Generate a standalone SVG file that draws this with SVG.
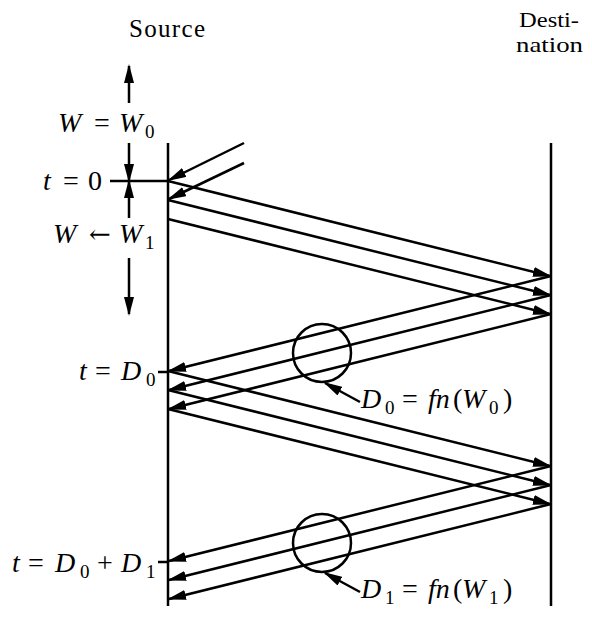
<svg xmlns="http://www.w3.org/2000/svg" width="592" height="619" viewBox="0 0 592 619">
<style>
.ln{stroke:#000;stroke-width:2.5;fill:none}
.ar{stroke:#000;stroke-width:2.5;fill:none;marker-end:url(#ah)}
.t{font-family:'Liberation Serif','Times New Roman',serif;font-size:28px;fill:#000}
.h{font-size:25px}
.d{font-size:22px}
.i{font-style:italic}
.s{font-size:19px}
.a{font-family:'DejaVu Serif',serif;font-size:26px}
</style>
<defs>
<marker id="ah" viewBox="0 0 19 10" refX="17" refY="5" markerWidth="19" markerHeight="10" markerUnits="userSpaceOnUse" orient="auto">
<path d="M0,0 L19,5 L0,10 z" fill="#000"/>
</marker>
</defs>
<rect width="592" height="619" fill="#fff"/>
<g id="source">
<line class="ln" x1="168" y1="143" x2="168" y2="606"/>
<text class="t h" x="129" y="37" textLength="76" lengthAdjust="spacing">Source</text>
</g>
<g id="destination">
<line class="ln" x1="551" y1="143" x2="551" y2="606"/>
<text class="t d" x="519" y="27" textLength="60" lengthAdjust="spacingAndGlyphs">Desti-</text>
<text class="t d" x="516" y="52" textLength="67" lengthAdjust="spacingAndGlyphs">nation</text>
</g>
<g id="window-labels">
<text class="t"><tspan class="i" x="58" y="132">W</tspan><tspan x="94" y="132">=</tspan><tspan class="i" x="119" y="132">W</tspan><tspan class="s" x="145" y="138">0</tspan></text>
<text class="t"><tspan class="i" x="43" y="190">t</tspan><tspan x="63" y="190">=</tspan><tspan x="88" y="190">0</tspan></text>
<text class="t"><tspan class="i" x="53" y="243">W</tspan><tspan class="a" x="89" y="243">←</tspan><tspan class="i" x="119" y="243">W</tspan><tspan class="s" x="145" y="249">1</tspan></text>
<line class="ln" x1="110" y1="181" x2="168" y2="181"/>
</g>
<g id="time-labels">
<text class="t"><tspan class="i" x="79" y="380">t</tspan><tspan x="95" y="380">=</tspan><tspan class="i" x="121" y="380">D</tspan><tspan class="s" x="146" y="386">0</tspan></text>
<line class="ln" x1="158" y1="372" x2="168" y2="372"/>
<text class="t"><tspan class="i" x="12" y="572">t</tspan><tspan x="28" y="572">=</tspan><tspan class="i" x="55" y="572">D</tspan><tspan class="s" x="80" y="578">0</tspan><tspan x="97" y="572">+</tspan><tspan class="i" x="121" y="572">D</tspan><tspan class="s" x="146" y="578">1</tspan></text>
<line class="ln" x1="158" y1="562" x2="168" y2="562"/>
</g>
<g id="delay0">
<circle class="ln" cx="322" cy="353" r="29"/>
<text class="t"><tspan class="i" x="361" y="408">D</tspan><tspan class="s" x="385" y="414">0</tspan><tspan x="402" y="408">=</tspan><tspan class="i" x="428" y="408">fn</tspan><tspan x="453" y="408">(</tspan><tspan class="i" x="462" y="408">W</tspan><tspan class="s" x="489" y="414">0</tspan><tspan x="503" y="408">)</tspan></text>
</g>
<g id="delay1">
<circle class="ln" cx="322" cy="543" r="29"/>
<text class="t"><tspan class="i" x="361" y="598">D</tspan><tspan class="s" x="385" y="604">1</tspan><tspan x="402" y="598">=</tspan><tspan class="i" x="428" y="598">fn</tspan><tspan x="453" y="598">(</tspan><tspan class="i" x="462" y="598">W</tspan><tspan class="s" x="489" y="604">1</tspan><tspan x="503" y="598">)</tspan></text>
</g>
<g id="connectors">
<line class="ar" x1="129" y1="103" x2="129" y2="66"/>
<line class="ar" x1="129" y1="143" x2="129" y2="181"/>
<line class="ar" x1="129" y1="218" x2="129" y2="181"/>
<line class="ar" x1="129" y1="258" x2="129" y2="314"/>
<line class="ar" x1="244" y1="143" x2="169" y2="180"/>
<line class="ar" x1="244" y1="163" x2="169" y2="199"/>
<line class="ar" x1="168" y1="181" x2="550" y2="276"/>
<line class="ar" x1="168" y1="200" x2="550" y2="295"/>
<line class="ar" x1="168" y1="219" x2="550" y2="314"/>
<line class="ar" x1="551" y1="276" x2="169" y2="371"/>
<line class="ar" x1="551" y1="295" x2="169" y2="390"/>
<line class="ar" x1="551" y1="314" x2="169" y2="409"/>
<line class="ar" x1="168" y1="371" x2="550" y2="466"/>
<line class="ar" x1="168" y1="390" x2="550" y2="485"/>
<line class="ar" x1="168" y1="409" x2="550" y2="504"/>
<line class="ar" x1="551" y1="466" x2="169" y2="561"/>
<line class="ar" x1="551" y1="485" x2="169" y2="580"/>
<line class="ar" x1="551" y1="504" x2="169" y2="599"/>
<line class="ar" x1="360" y1="402" x2="325" y2="383"/>
<line class="ar" x1="360" y1="592" x2="325" y2="573"/>
</g>
</svg>
